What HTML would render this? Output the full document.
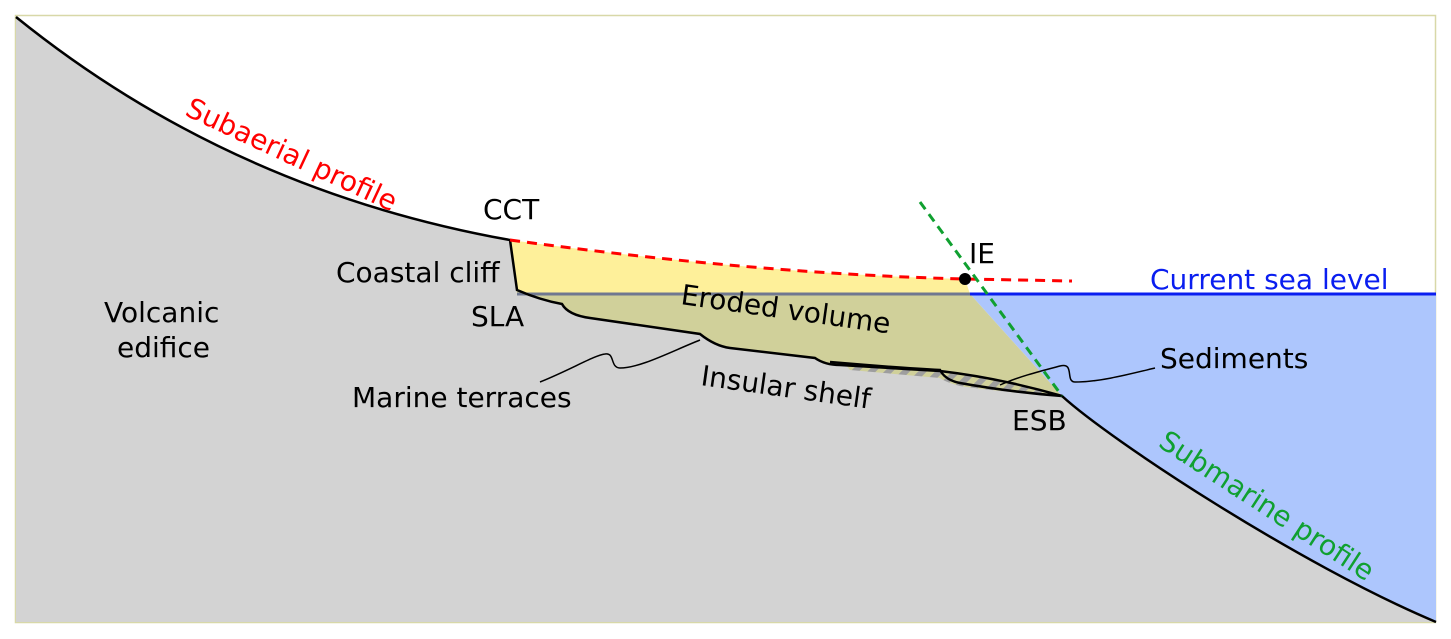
<!DOCTYPE html>
<html><head><meta charset="utf-8"><style>html,body{margin:0;padding:0;background:#fff}svg{display:block}</style></head><body>
<svg width="1451" height="639" viewBox="0 0 1451 639" xmlns="http://www.w3.org/2000/svg" font-family="DejaVu Sans, Liberation Sans, sans-serif" font-size="28">
<defs>
<pattern id="h" width="12" height="12" patternUnits="userSpaceOnUse" patternTransform="rotate(45)">
<rect width="12" height="12" fill="#d0d09a"/><rect width="6" height="12" fill="#9e9e9e"/>
</pattern>
</defs>
<rect x="15.5" y="15.5" width="1420" height="607" fill="#fff" stroke="#d8d8a8" stroke-width="1.5"/>
<path d="M970,294 L1436,294 L1436,622 C1300,565 1110,440 1062,396 Z" fill="#adc6fd"/>
<path d="M16,17 Q230,190 510,240 L517,290 Q540,300 562,304 Q568,315 590,318 L700,334 Q715,346 730,348 L815,358 Q825,365 840,365 L940,371 Q1000,378 1062,396 C1110,440 1300,565 1436,622 L16,622 Z" fill="#d3d3d3"/>
<path d="M510,240 Q760,274 965,279 L970,294 L517,294 Z" fill="#fef09a"/>
<path d="M517,294 L970,294 L1062,396 Q1000,378 940,371 L840,365 Q825,365 815,358 L730,348 Q715,346 700,334 L590,318 Q568,315 562,304 Q540,300 517,290 Z" fill="#d0d09a"/>
<path d="M845,364 L940,370 Q1000,378 1062,396 Q1000,392 960,386 Q945,382 940,378 L850,370 Z" fill="url(#h)"/>
<line x1="517" y1="294" x2="970" y2="294" stroke="#707890" stroke-width="3"/>
<line x1="970" y1="294" x2="1436" y2="294" stroke="#0a1ef0" stroke-width="3"/>
<path d="M16,17 Q230,190 510,240 L517,290 Q540,300 562,304 Q568,315 590,318 L700,334 Q715,346 730,348 L815,358 Q825,365 840,365 L940,371 Q1000,378 1062,396 C1110,440 1300,565 1436,622" fill="none" stroke="#000" stroke-width="2.5"/>
<path d="M830,362 Q900,368 940,370 Q945,380 960,383 Q1010,392 1062,396" fill="none" stroke="#000" stroke-width="2.5"/>
<path d="M510,240 Q760,274 965,279 L1072,281" fill="none" stroke="#f00" stroke-width="3" stroke-dasharray="10,7"/>
<line x1="920" y1="202" x2="1062" y2="396" stroke="#10a030" stroke-width="3" stroke-dasharray="9,6"/>
<circle cx="965" cy="279" r="6" fill="#000"/>
<path d="M540,382 C570,370 595,355 605,354 C615,352 610,368 620,368 C640,368 670,352 700,340" fill="none" stroke="#000" stroke-width="1.5"/>
<path d="M1000,385 C1020,376 1045,370 1060,366 C1075,362 1065,382 1075,382 C1100,382 1130,374 1155,368" fill="none" stroke="#000" stroke-width="1.5"/>
<text x="291" y="164" fill="#f00" text-anchor="middle" transform="rotate(25 291 156)">Subaerial profile</text>
<text x="1266" y="515" fill="#10a030" text-anchor="middle" transform="rotate(33 1266 507)">Submarine profile</text>
<text x="483" y="219">CCT</text>
<text x="336" y="282">Coastal cliff</text>
<text x="471" y="326">SLA</text>
<text x="104" y="322">Volcanic</text>
<text x="117" y="357">edifice</text>
<text x="352" y="407">Marine terraces</text>
<text x="680" y="304" transform="rotate(8 680 304)">Eroded volume</text>
<text x="700" y="385" transform="rotate(8 700 385)">Insular shelf</text>
<text x="969" y="263">IE</text>
<text x="1150" y="289" fill="#0a1ef0">Current sea level</text>
<text x="1160" y="368">Sediments</text>
<text x="1012" y="430">ESB</text>
</svg>
</body></html>
